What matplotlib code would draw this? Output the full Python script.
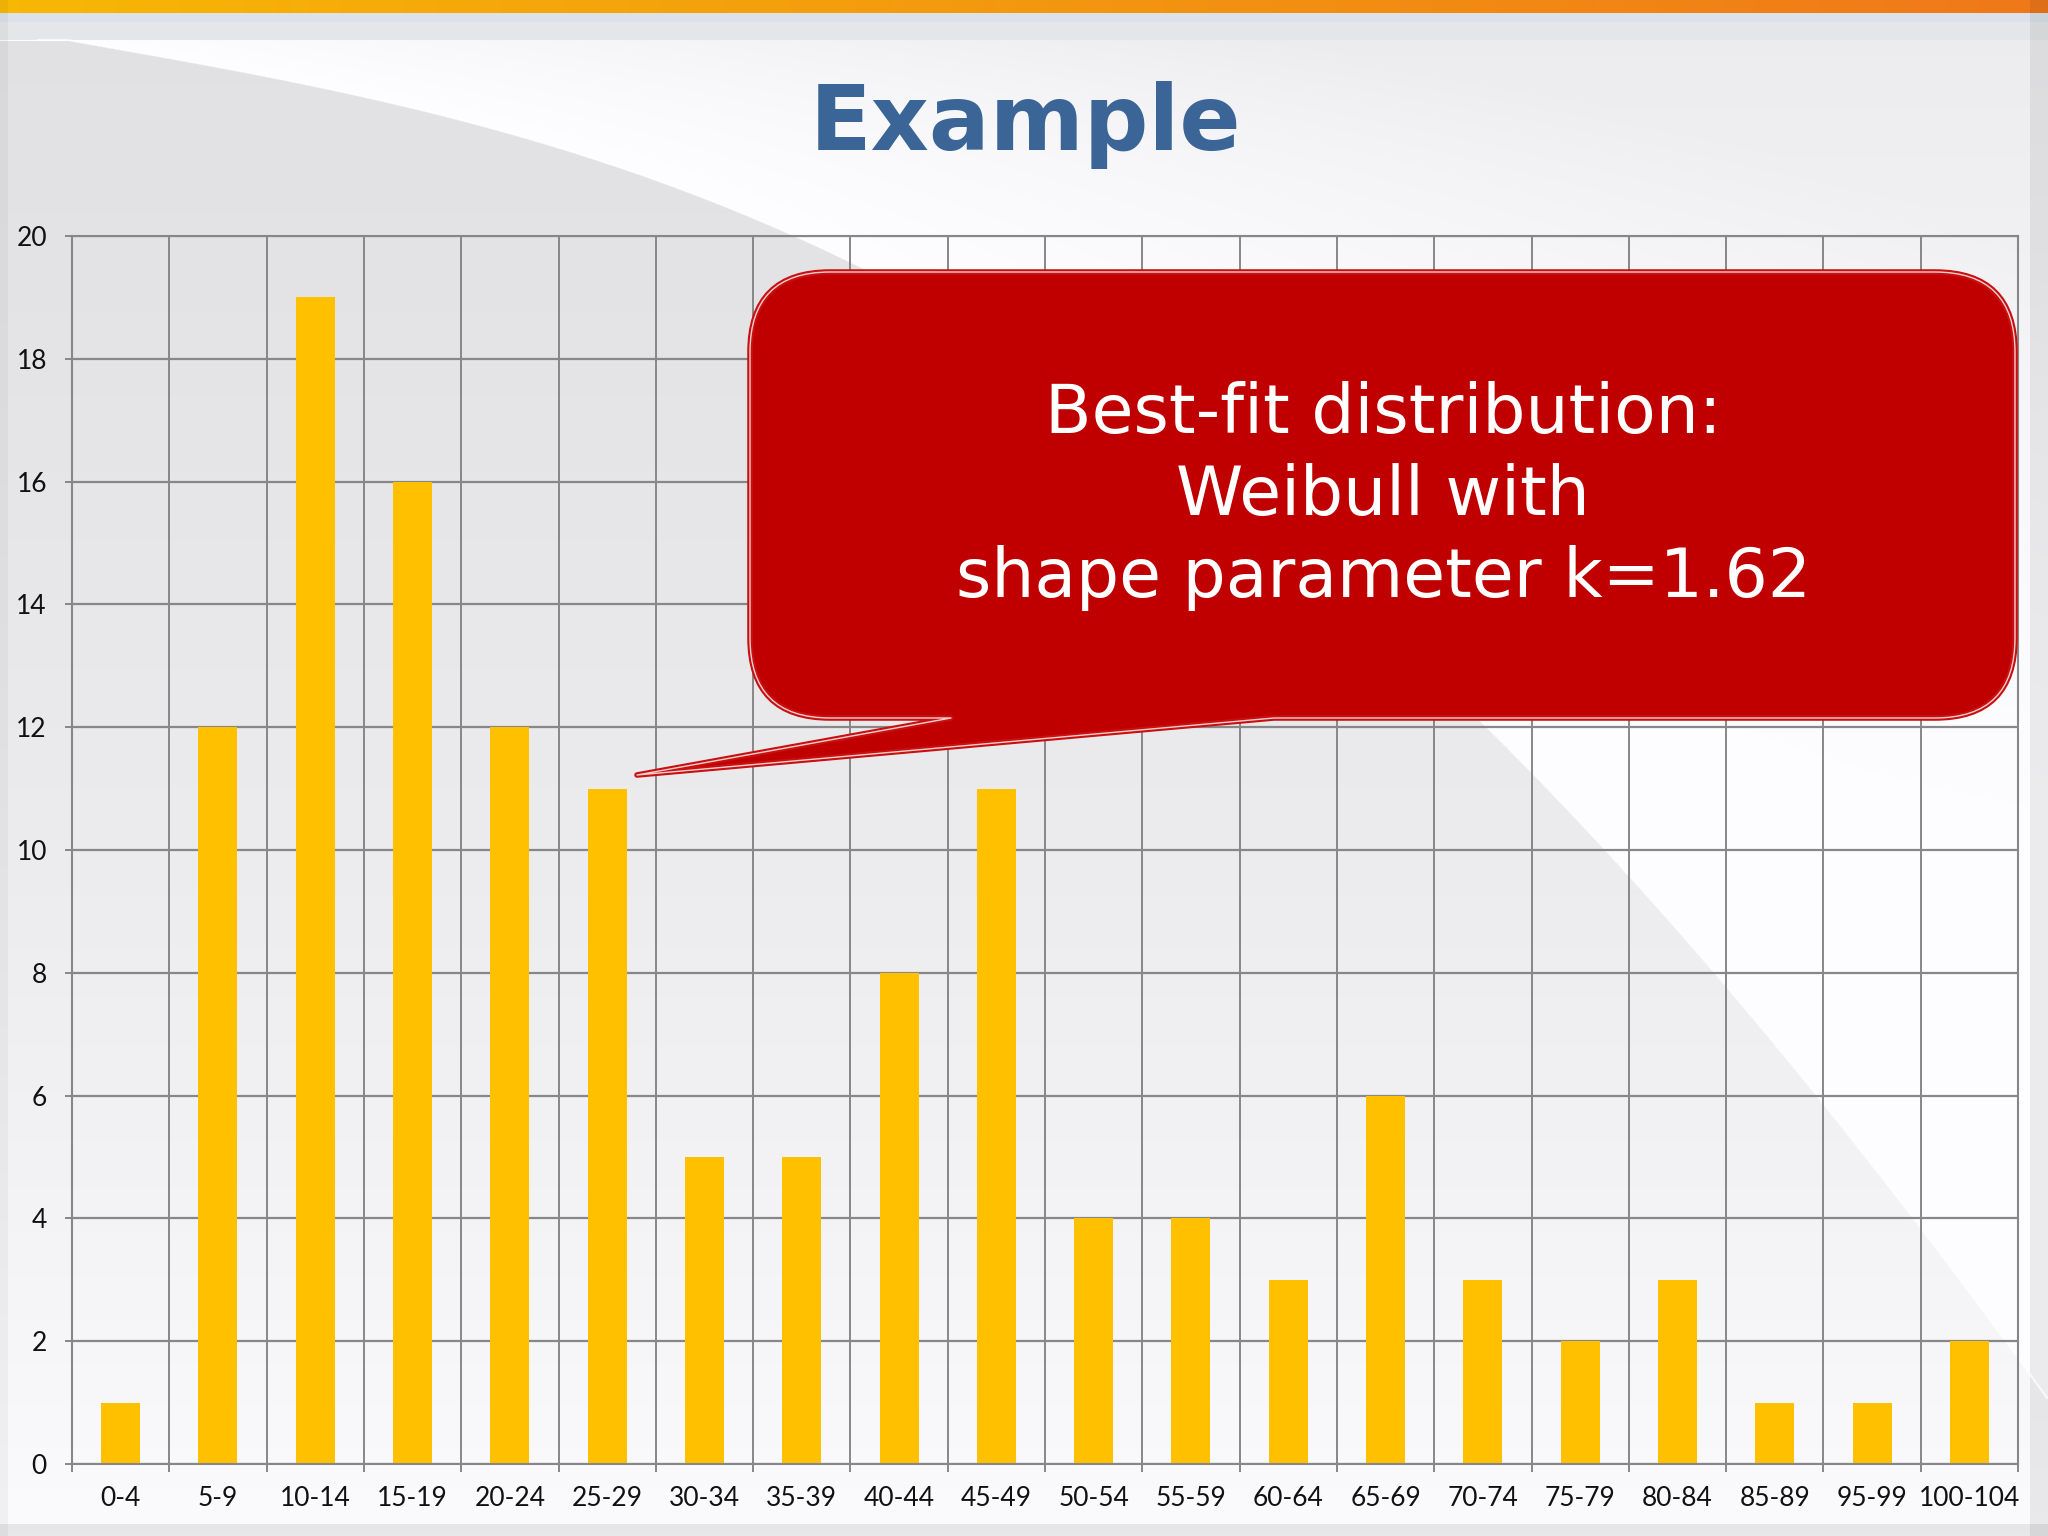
import numpy as np
import matplotlib
matplotlib.use('Agg')
import matplotlib.pyplot as plt
from matplotlib.path import Path
from matplotlib.patches import PathPatch

# ---------------- data ----------------
categories = ['0-4', '5-9', '10-14', '15-19', '20-24', '25-29', '30-34', '35-39',
              '40-44', '45-49', '50-54', '55-59', '60-64', '65-69', '70-74',
              '75-79', '80-84', '85-89', '95-99', '100-104']
counts = [1, 12, 19, 16, 12, 11, 5, 5, 8, 11, 4, 4, 3, 6, 3, 2, 3, 1, 1, 2]
y_ticks = [0, 2, 4, 6, 8, 10, 12, 14, 16, 18, 20]
title_text = 'Example'
callout_lines = ['Best-fit distribution:', 'Weibull with', 'shape parameter k=1.62']

# ---------------- figure ----------------
W, H = 2048, 1536
DPI = 100
fig = plt.figure(figsize=(W / DPI, H / DPI), dpi=DPI)

# ---- slide background (gray swoosh on white) ----
curve_x = np.array([38, 191, 319, 446, 574, 700, 848, 1496, 1629, 1729, 1825, 1920, 1987, 2100.])
curve_y = np.array([40, 57, 80, 117, 153, 200, 267, 729, 865, 989, 1113, 1232, 1328, 1460.])
coef = np.polyfit(curve_x / 1000.0, curve_y, 4)
xs = np.arange(W, dtype=float)
yc_s = np.polyval(coef, xs / 1000.0)
yc_s = np.maximum.accumulate(np.maximum(yc_s, 40))
yc_s[:38] = 40
yy, xx = np.mgrid[0:H, 0:W].astype(float)
yc = yc_s[None, :]
grayside = (yy > yc) & (yy >= 39)
gray = 0.885 + 0.10 * (yy / H) ** 1.5
xcurve_row = np.interp(yy[:, 0], yc_s, xs)[:, None]
t = np.clip((xx - xcurve_row) / 1200.0, 0, 1) * np.clip(1 - yy / 900.0, 0, 1)
white = 0.995 - 0.07 * t
val = np.where(grayside, gray, white)
img = np.stack([val, val, val + 0.008], axis=-1)
# top strip
fx = np.linspace(0, 1, W)
c0 = np.array([0.97, 0.72, 0.02])
c1 = np.array([0.94, 0.47, 0.10])
img[:13] = (c0[None, :] * (1 - fx[:, None]) + c1[None, :] * fx[:, None])[None, :, :]
img[13:22] = np.array([0.86, 0.89, 0.92])
img[22:40] = np.array([0.90, 0.905, 0.915])
# slide edge shadows
img[:, 2030:] *= 0.93
img[1524:, :] *= 0.92
img[:, :8] *= 0.96
img = np.clip(img, 0, 1)

ax_bg = fig.add_axes([0, 0, 1, 1], zorder=0)
ax_bg.imshow(img, extent=(0, W, H, 0), aspect='auto', interpolation='bilinear')
sel = xs >= 38
ax_bg.plot(xs[sel], yc_s[sel], color='white', lw=1.6, alpha=0.7)
ax_bg.set_xlim(0, W)
ax_bg.set_ylim(H, 0)
ax_bg.axis('off')

# ---- chart ----
gc = '#878787'
L, R, T, B = 72, 2018, 236, 1464
ax = fig.add_axes([L / W, 1 - B / H, (R - L) / W, (B - T) / H], zorder=1)
ax.patch.set_alpha(0)
x = np.arange(len(categories))
ax.bar(x, counts, width=0.4, color='#FFC000', zorder=2)
ax.set_xlim(-0.5, len(categories) - 0.5)
ax.set_ylim(0, 20)
ax.set_yticks(y_ticks)
ax.set_xticks(x)
ax.set_xticklabels(categories)
ax.set_xticks(np.arange(-0.5, len(categories)), minor=True)
ax.set_axisbelow(True)
ax.grid(which='minor', axis='x', color=gc, lw=1.4)
ax.grid(which='major', axis='y', color=gc, lw=1.6)
ax.grid(which='major', axis='x', visible=False)
for s in ax.spines.values():
    s.set_color(gc)
    s.set_linewidth(1.5)
tick_font = ['Lato', 'DejaVu Sans']
ax.tick_params(axis='x', which='major', length=0, pad=16, labelsize=19, labelcolor='#111111')
ax.tick_params(axis='x', which='minor', length=6, width=1.4, color=gc)
ax.tick_params(axis='y', which='major', length=5, width=1.4, color=gc, pad=13,
               labelsize=19, labelcolor='#111111')
for lab in ax.get_xticklabels() + ax.get_yticklabels():
    lab.set_family(tick_font)

# ---- foreground: title and callout ----
ax_fg = fig.add_axes([0, 0, 1, 1], zorder=3)
ax_fg.patch.set_alpha(0)
ax_fg.set_xlim(0, W)
ax_fg.set_ylim(H, 0)
ax_fg.axis('off')

ax_fg.text(1026, 150, title_text, ha='center', va='baseline', fontsize=65,
           color='#3B6597', fontweight='bold')

cl, cr, ct, cb, r = 750, 2015, 272, 718, 80
tip = (637, 775)
verts = [
    (cl + r, ct), (cr - r, ct),
    (cr, ct), (cr, ct + r),
    (cr, cb - r),
    (cr, cb), (cr - r, cb),
    (1274, cb), tip, (951, cb),
    (cl + r, cb),
    (cl, cb), (cl, cb - r),
    (cl, ct + r),
    (cl, ct), (cl + r, ct),
    (cl + r, ct),
]
codes = [Path.MOVETO, Path.LINETO,
         Path.CURVE3, Path.CURVE3,
         Path.LINETO,
         Path.CURVE3, Path.CURVE3,
         Path.LINETO, Path.LINETO, Path.LINETO,
         Path.LINETO,
         Path.CURVE3, Path.CURVE3,
         Path.LINETO,
         Path.CURVE3, Path.CURVE3,
         Path.CLOSEPOLY]
path = Path(verts, codes)
ax_fg.add_patch(PathPatch(path, facecolor='#C00000', edgecolor='#C81010', lw=4,
                          joinstyle='round'))
ax_fg.add_patch(PathPatch(path, facecolor='none', edgecolor='white', lw=1.0,
                          alpha=0.8, joinstyle='round'))

for line, yb in zip(callout_lines, [433, 515, 597]):
    ax_fg.text(1383, yb, line, ha='center', va='baseline', fontsize=49,
               color='white')

fig.savefig('out.png', dpi=DPI)
